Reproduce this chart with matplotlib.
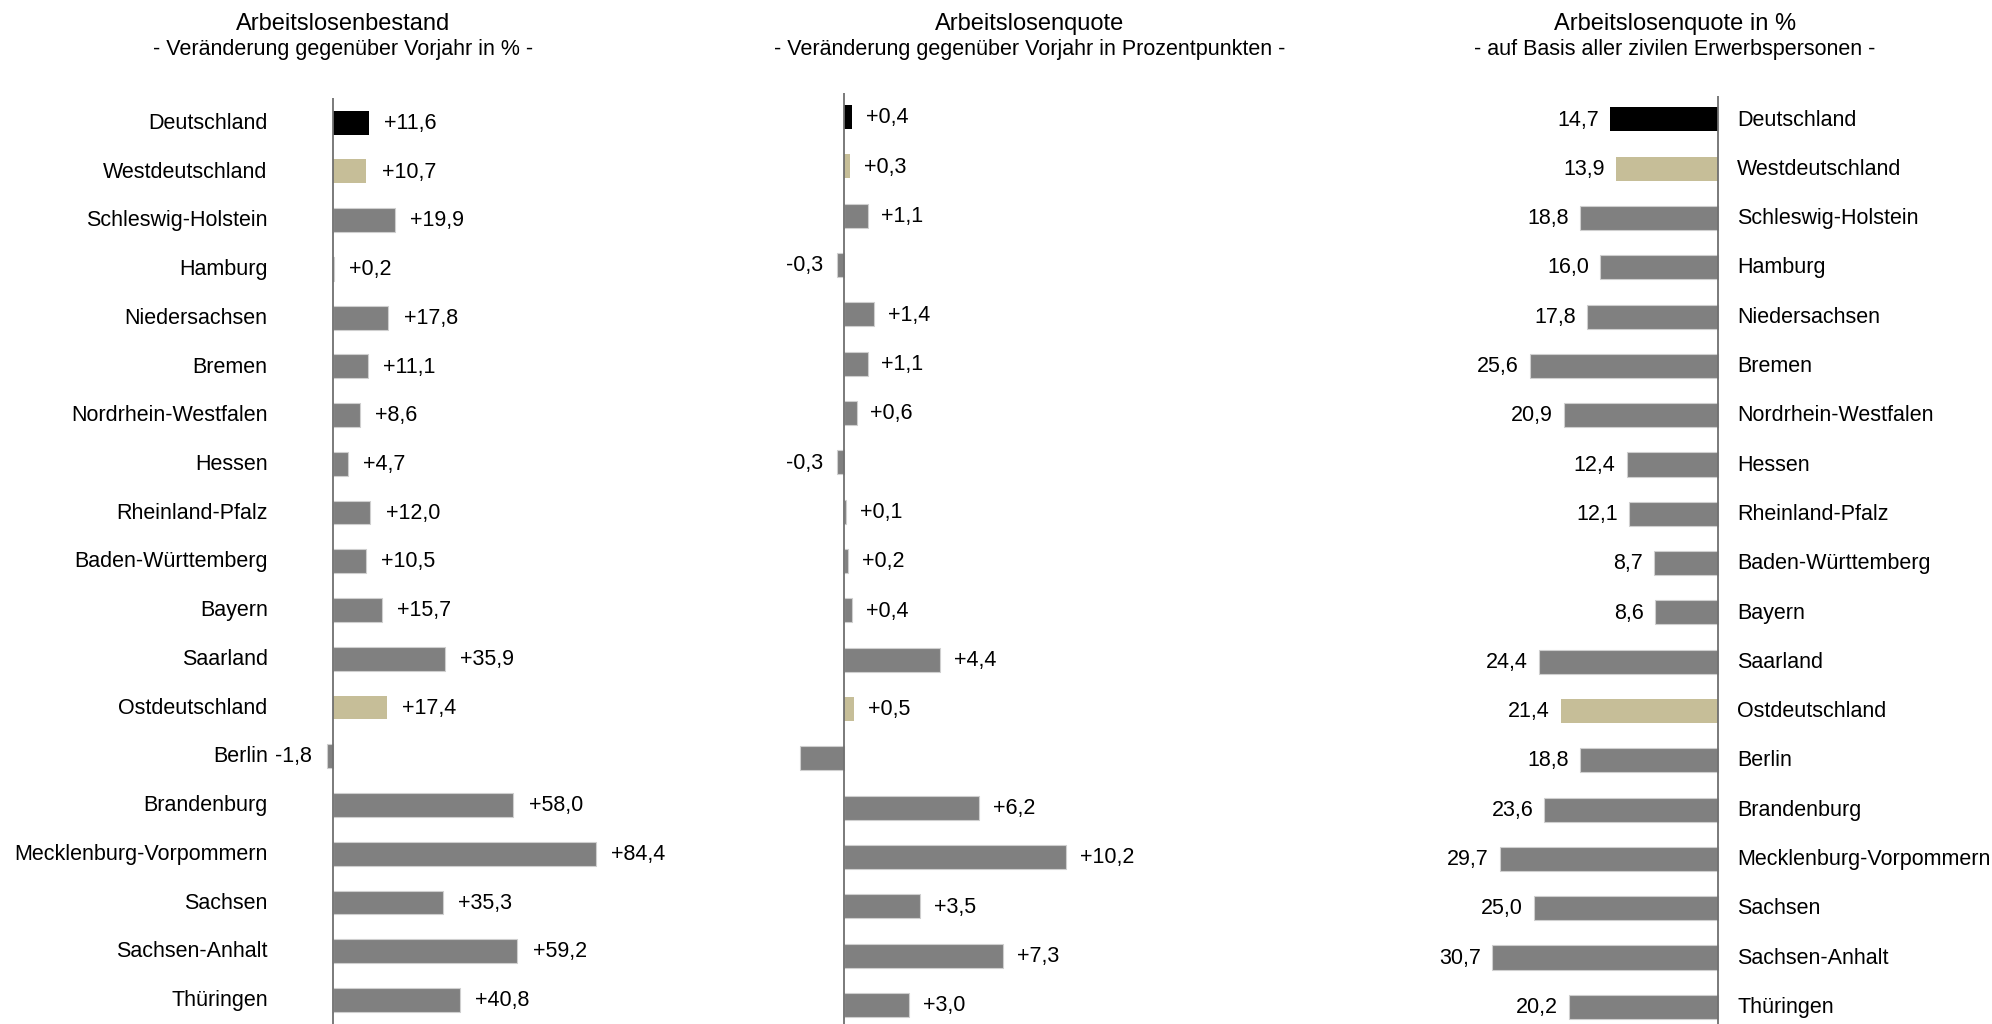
import matplotlib
matplotlib.use("Agg")
import matplotlib.pyplot as plt

plt.rcParams['font.family'] = ['Liberation Sans', 'DejaVu Sans']

categories = ["Deutschland", "Westdeutschland", "Schleswig-Holstein", "Hamburg",
              "Niedersachsen", "Bremen", "Nordrhein-Westfalen", "Hessen",
              "Rheinland-Pfalz", "Baden-Württemberg", "Bayern", "Saarland",
              "Ostdeutschland", "Berlin", "Brandenburg", "Mecklenburg-Vorpommern",
              "Sachsen", "Sachsen-Anhalt", "Thüringen"]

bestand_change = [11.6, 10.7, 19.9, 0.2, 17.8, 11.1, 8.6, 4.7, 12.0, 10.5, 15.7, 35.9,
                  17.4, -1.8, 58.0, 84.4, 35.3, 59.2, 40.8]
quote_change = [0.4, 0.3, 1.1, -0.3, 1.4, 1.1, 0.6, -0.3, 0.1, 0.2, 0.4, 4.4,
                0.5, -2.0, 6.2, 10.2, 3.5, 7.3, 3.0]
quote_change_labelled = [True] * 13 + [False] + [True] * 5
quote_level = [14.7, 13.9, 18.8, 16.0, 17.8, 25.6, 20.9, 12.4, 12.1, 8.7, 8.6, 24.4,
               21.4, 18.8, 23.6, 29.7, 25.0, 30.7, 20.2]

titles = ["Arbeitslosenbestand", "Arbeitslosenquote", "Arbeitslosenquote in %"]
subtitles = ["- Veränderung gegenüber Vorjahr in % -",
             "- Veränderung gegenüber Vorjahr in Prozentpunkten -",
             "- auf Basis aller zivilen Erwerbspersonen -"]

BLACK = "#000000"
TAN = "#C6BE98"
GRAY = "#808080"
colors = [BLACK if c == "Deutschland" else TAN if c in ("Westdeutschland", "Ostdeutschland") else GRAY
          for c in categories]
edges = ["none" if col != GRAY else "#cfcfcf" for col in colors]

W, H = 1992, 1024
fig = plt.figure(figsize=(W / 100, H / 100), dpi=100)

FS = 15.5
n = len(categories)
ypos = list(range(n))


def de(v, sign=True):
    s = f"{v:+.1f}" if sign else f"{v:.1f}"
    return s.replace(".", ",")


def make_axes(zero_px, px_per_unit, xmin, xmax, row0_px, row_last_px, top_px):
    spacing = (row_last_px - row0_px) / (n - 1)
    if xmin < xmax:
        left_px = zero_px - (0 - xmin) * px_per_unit
    else:
        left_px = zero_px - xmin * px_per_unit
    width_px = abs(xmax - xmin) * px_per_unit
    ax = fig.add_axes([left_px / W, 0, width_px / W, (H - top_px) / H])
    ax.set_xlim(xmin, xmax)
    ytop = -(row0_px - top_px) / spacing
    ybot = (H - row0_px) / spacing
    ax.set_ylim(ybot, ytop)
    ax.axis("off")
    ax.axvline(0, color="#6f6f6f", lw=1.3, zorder=3)
    return ax


# Panel 1
ax1 = make_axes(333, 3.112, -15, 95, 122.6, 1000, 98)
ax1.barh(ypos, bestand_change, height=0.49, color=colors, edgecolor=edges, linewidth=0.8, zorder=2)
for y, v, c in zip(ypos, bestand_change, categories):
    ax1.annotate(de(v), (v, y), xytext=(11 if v >= 0 else -11, -0.5), textcoords="offset points",
                 ha="left" if v >= 0 else "right", va="center", fontsize=FS)
    ax1.annotate(c, (0, y), xytext=(-47, -0.5), textcoords="offset points",
                 ha="right", va="center", fontsize=FS)

# Panel 2
ax2 = make_axes(843.5, 21.85, -3, 12, 117, 1005, 93)
ax2.barh(ypos, quote_change, height=0.49, color=colors, edgecolor=edges, linewidth=0.8, zorder=2)
for y, v, show in zip(ypos, quote_change, quote_change_labelled):
    if show:
        ax2.annotate(de(v), (v, y), xytext=(10 if v >= 0 else -10, -0.5), textcoords="offset points",
                     ha="left" if v >= 0 else "right", va="center", fontsize=FS)

# Panel 3 (bars extend to the left)
ax3 = make_axes(1717.6, 7.336, 35, -3, 119.4, 1006.8, 96)
ax3.barh(ypos, quote_level, height=0.49, color=colors, edgecolor=edges, linewidth=0.8, zorder=2)
for y, v, c in zip(ypos, quote_level, categories):
    ax3.annotate(de(v, sign=False), (v, y), xytext=(-8, -0.5), textcoords="offset points",
                 ha="right", va="center", fontsize=FS)
    ax3.annotate(c, (0, y), xytext=(14, -0.5), textcoords="offset points",
                 ha="left", va="center", fontsize=FS)

title_x = [343, 1030, 1675]
for tx, t, st in zip(title_x, titles, subtitles):
    fig.text(tx / W, 1 - 30 / H, t, ha="center", va="baseline", fontsize=17)
    fig.text(tx / W, 1 - 55 / H, st, ha="center", va="baseline", fontsize=15.5)

fig.savefig("out.png", dpi=100, facecolor="white")
